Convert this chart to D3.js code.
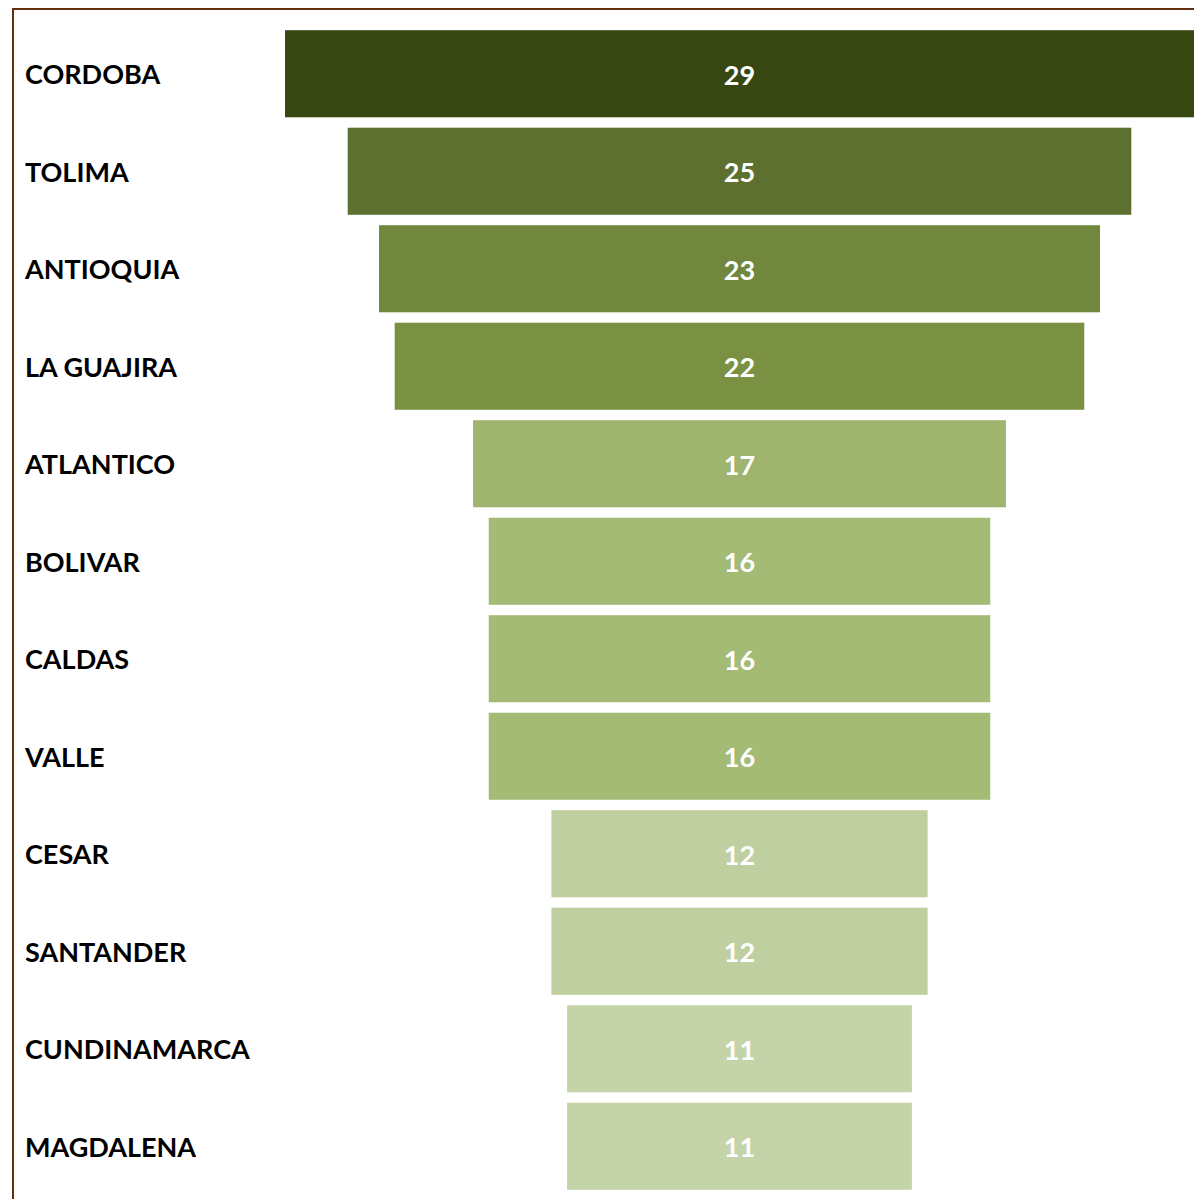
<!DOCTYPE html>
<html>
<head>
<meta charset="utf-8">
<script src="https://cdn.jsdelivr.net/npm/d3@7"></script>
<style>
  body { margin: 0; background: #fff; }
  text { font-family: Lato, "Open Sans", sans-serif; font-weight: bold; }
</style>
</head>
<body>
<div id="chart"></div>
<script>
// departamentos y conteos
const categories = ["CORDOBA", "TOLIMA", "ANTIOQUIA", "LA GUAJIRA", "ATLANTICO", "BOLIVAR",
    "CALDAS", "VALLE", "CESAR", "SANTANDER", "CUNDINAMARCA", "MAGDALENA"];
const values = [29, 25, 23, 22, 17, 16, 16, 16, 12, 12, 11, 11];

// un tono por nivel de valor
const levels = [29, 25, 23, 22, 17, 16, 12, 11];
const palette = ["#374712", "#5e7030", "#70873d", "#7a9143", "#9fb56f", "#a4bb76", "#bfcf9f", "#c4d4a8"];

const width = 1194, height = 1199;
const centerX = 739.5;

const svg = d3.select("#chart").append("svg")
    .attr("width", width)
    .attr("height", height);

const x = d3.scaleLinear().domain([0, 29]).range([0, 909]);
const y = d3.scaleBand()
    .domain(categories)
    .range([25, 1195])
    .paddingInner(0.107)
    .paddingOuter(0.0535);
const color = d3.scaleOrdinal().domain(levels).range(palette);

const rows = categories.map((c, i) => ({ name: c, value: values[i] }));

// marco
svg.append("line")
    .attr("x1", 12).attr("x2", width)
    .attr("y1", 9).attr("y2", 9)
    .attr("stroke", "#62300d").attr("stroke-width", 2);
svg.append("line")
    .attr("x1", 13).attr("x2", 13)
    .attr("y1", 8).attr("y2", height)
    .attr("stroke", "#62300d").attr("stroke-width", 2);

const row = svg.selectAll(".row")
    .data(rows)
    .enter()
    .append("g")
    .attr("class", "row");

row.append("rect")
    .attr("x", d => centerX - x(d.value) / 2)
    .attr("y", d => y(d.name))
    .attr("width", d => x(d.value))
    .attr("height", y.bandwidth())
    .attr("fill", d => color(d.value));

row.append("text")
    .attr("x", 25)
    .attr("y", d => y(d.name) + y.bandwidth() / 2 + 1)
    .attr("dy", ".35em")
    .attr("font-size", 27)
    .attr("fill", "#000")
    .text(d => d.name);

row.append("text")
    .attr("x", centerX)
    .attr("y", d => y(d.name) + y.bandwidth() / 2 + 1.5)
    .attr("dy", ".35em")
    .attr("text-anchor", "middle")
    .attr("font-size", 27)
    .attr("fill", "#fff")
    .text(d => d.value);
</script>
</body>
</html>
